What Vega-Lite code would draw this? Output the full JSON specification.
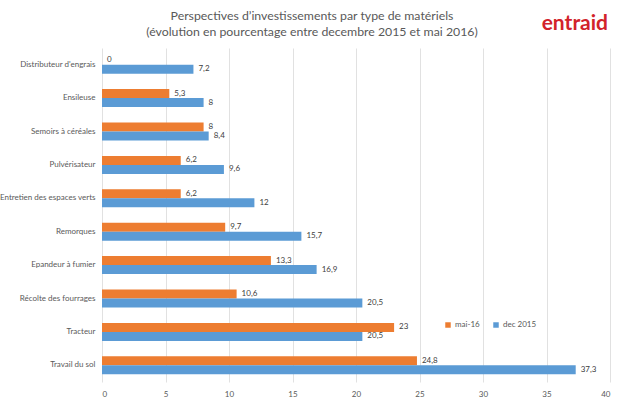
{
  "$schema": "https://vega.github.io/schema/vega-lite/v6.json",
  "width": 508,
  "height": 334,
  "autosize": {"type": "none"},
  "padding": {"left": 102, "top": 48, "right": 10, "bottom": 25},
  "background": "white",
  "title": {
    "text": ["Perspectives d’investissements par type de matériels", "(évolution en pourcentage entre decembre 2015 et mai 2016)"],
    "anchor": "middle",
    "dx": -44,
    "offset": -26,
    "font": "Lato",
    "fontSize": 12.3,
    "fontWeight": "normal",
    "color": "#595959",
    "lineHeight": 16
  },
  "layer": [
    {
      "data": {
        "values": [
          {"cat": "Distributeur d'engrais", "serie": "mai-16", "v": 0},
          {"cat": "Distributeur d'engrais", "serie": "dec 2015", "v": 7.2},
          {"cat": "Ensileuse", "serie": "mai-16", "v": 5.3},
          {"cat": "Ensileuse", "serie": "dec 2015", "v": 8},
          {"cat": "Semoirs à céréales", "serie": "mai-16", "v": 8},
          {"cat": "Semoirs à céréales", "serie": "dec 2015", "v": 8.4},
          {"cat": "Pulvérisateur", "serie": "mai-16", "v": 6.2},
          {"cat": "Pulvérisateur", "serie": "dec 2015", "v": 9.6},
          {"cat": "Entretien des espaces verts", "serie": "mai-16", "v": 6.2},
          {"cat": "Entretien des espaces verts", "serie": "dec 2015", "v": 12},
          {"cat": "Remorques", "serie": "mai-16", "v": 9.7},
          {"cat": "Remorques", "serie": "dec 2015", "v": 15.7},
          {"cat": "Epandeur à fumier", "serie": "mai-16", "v": 13.3},
          {"cat": "Epandeur à fumier", "serie": "dec 2015", "v": 16.9},
          {"cat": "Récolte des fourrages", "serie": "mai-16", "v": 10.6},
          {"cat": "Récolte des fourrages", "serie": "dec 2015", "v": 20.5},
          {"cat": "Tracteur", "serie": "mai-16", "v": 23},
          {"cat": "Tracteur", "serie": "dec 2015", "v": 20.5},
          {"cat": "Travail du sol", "serie": "mai-16", "v": 24.8},
          {"cat": "Travail du sol", "serie": "dec 2015", "v": 37.3}
        ]
      },
      "encoding": {
        "y": {
          "field": "cat",
          "type": "nominal",
          "sort": null,
          "scale": {"paddingInner": 0.46, "paddingOuter": 0.23},
          "axis": {
            "title": null,
            "domain": false,
            "ticks": false,
            "labelPadding": 7,
            "labelFont": "Lato",
            "labelFontSize": 8,
            "labelColor": "#595959",
            "grid": false
          }
        },
        "yOffset": {
          "field": "serie",
          "type": "nominal",
          "sort": ["mai-16", "dec 2015"],
          "scale": {"paddingInner": 0, "paddingOuter": 0}
        },
        "x": {
          "field": "v",
          "type": "quantitative",
          "scale": {"domain": [0, 40], "nice": false},
          "axis": {
            "title": null,
            "values": [0, 5, 10, 15, 20, 25, 30, 35, 40],
            "domain": false,
            "ticks": false,
            "labelPadding": 8,
            "labelFont": "Lato",
            "labelFontSize": 8,
            "labelColor": "#595959",
            "gridColor": "#d9d9d9",
            "gridWidth": 0.8
          }
        }
      },
      "layer": [
        {
          "mark": {"type": "bar"},
          "encoding": {
            "color": {
              "field": "serie",
              "type": "nominal",
              "sort": ["mai-16", "dec 2015"],
              "scale": {"domain": ["mai-16", "dec 2015"], "range": ["#ED7D31", "#5B9BD5"]},
              "legend": {
                "title": null,
                "orient": "none",
                "direction": "horizontal",
                "legendX": 342,
                "legendY": 273,
                "symbolType": "square",
                "symbolSize": 30,
                "symbolStrokeWidth": 0,
                "labelFont": "Lato",
                "labelFontSize": 8,
                "labelColor": "#595959",
                "columnPadding": 12,
                "labelOffset": 3
              }
            }
          }
        },
        {
          "mark": {"type": "text", "align": "left", "baseline": "middle", "dx": 5, "font": "Lato", "fontSize": 8, "color": "#404040"},
          "encoding": {
            "text": {"field": "v", "type": "quantitative", "format": ".3~r"}
          }
        }
      ]
    },
    {
      "data": {"values": [{"logo": "entraid"}]},
      "mark": {"type": "text", "align": "right", "baseline": "middle", "dx": -2, "dy": -41, "font": "Lato", "fontSize": 21, "fontWeight": "bold", "color": "#D2232A"},
      "encoding": {
        "x": {"datum": 40, "type": "quantitative"},
        "y": {"datum": "Distributeur d'engrais", "type": "nominal"},
        "text": {"field": "logo", "type": "nominal"}
      }
    }
  ],
  "config": {
    "view": {"stroke": null},
    "locale": {"number": {"decimal": ",", "thousands": " ", "grouping": [3], "currency": ["", " €"]}}
  }
}
